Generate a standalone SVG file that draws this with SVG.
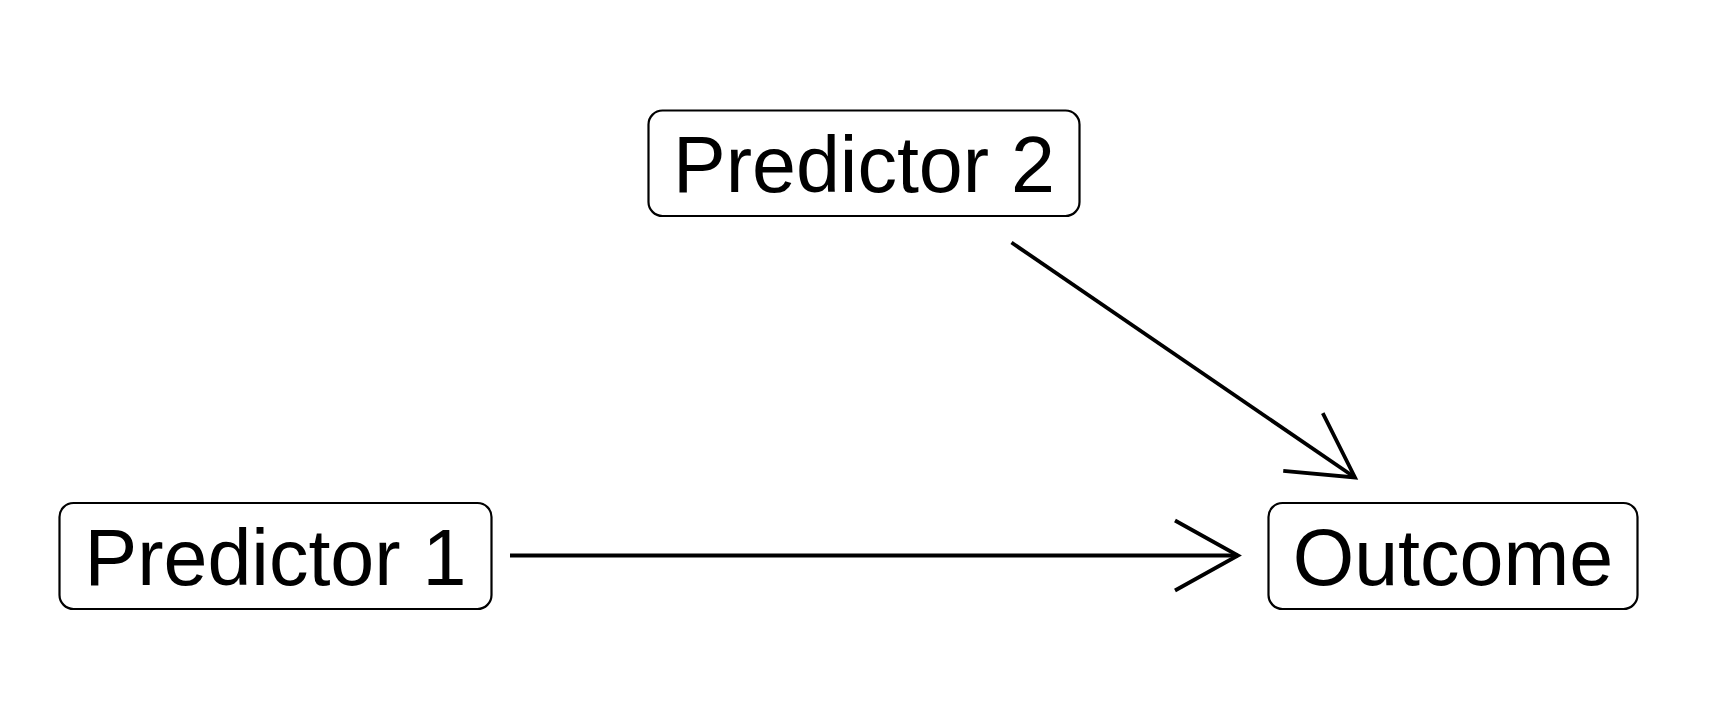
<svg xmlns="http://www.w3.org/2000/svg" width="1728" height="720" viewBox="0 0 1728 720">
<style>
.box{fill:#fff;stroke:#000;stroke-width:2.2}
.lbl{font-family:"Liberation Sans",Arial,Helvetica,sans-serif;font-size:79px;fill:#000;text-anchor:middle}
.edge{fill:none;stroke:#000;stroke-width:3.8}
</style>
<defs>
<marker id="arr" markerUnits="userSpaceOnUse" orient="auto" refX="0" refY="0" markerWidth="100" markerHeight="100" overflow="visible">
<path d="M-63,-35 L0,0 L-63,35" fill="none" stroke="#000" stroke-width="3.8" stroke-linejoin="miter"/>
</marker>
</defs>
<rect width="1728" height="720" fill="#fff"/>
<g id="connectors">
<line class="edge" x1="510" y1="555.5" x2="1238" y2="555.5" marker-end="url(#arr)"/>
<line class="edge" x1="1011.5" y1="242.5" x2="1355" y2="477.5" marker-end="url(#arr)"/>
</g>
<g id="predictor2">
<rect class="box" x="648.5" y="110.5" width="431" height="105.5" rx="14"/>
<text class="lbl" x="864" y="192">Predictor 2</text>
</g>
<g id="predictor1">
<rect class="box" x="59.5" y="503" width="432" height="106" rx="14"/>
<text class="lbl" x="275.5" y="584.5">Predictor 1</text>
</g>
<g id="outcome">
<rect class="box" x="1268.5" y="503" width="369" height="106" rx="14"/>
<text class="lbl" x="1453" y="585">Outcome</text>
</g>
</svg>
